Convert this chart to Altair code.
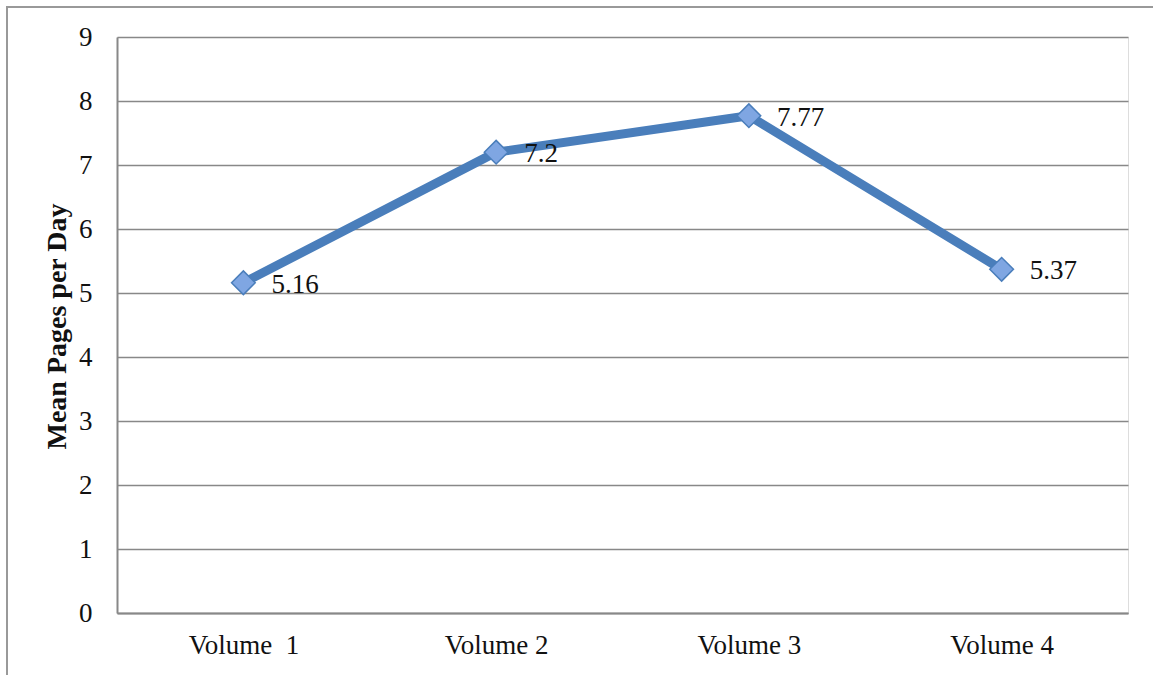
import altair as alt
import pandas as pd

volumes = ["Volume \u00a01", "Volume 2", "Volume 3", "Volume 4"]
means = [5.16, 7.2, 7.77, 5.37]
labels = ["5.16", "7.2", "7.77", "5.37"]

df = pd.DataFrame({"vol": volumes, "mean": means, "label": labels})

FONT = "Liberation Serif"
FS = 27

x = alt.X("vol:N", sort=volumes, scale=alt.Scale(type="point", padding=0.5),
          axis=alt.Axis(title=None, labelAngle=0, labelFontSize=FS, labelFont=FONT,
                        labelColor="#111", labelPadding=19, ticks=False, domain=True,
                        domainColor="#888", domainWidth=2, grid=False))
y = alt.Y("mean:Q", scale=alt.Scale(domain=[0, 9], nice=False),
          axis=alt.Axis(title="Mean Pages per Day", values=list(range(10)), titleFont=FONT,
                        titleFontSize=28, titleFontWeight="bold", titleColor="#111",
                        titleX=-60, titleY=289, titleAngle=-90, titleAlign="center",
                        titleBaseline="middle",
                        labelFontSize=FS, labelFont=FONT, labelColor="#111", labelPadding=25,
                        ticks=False, domain=True, domainColor="#888", domainWidth=2,
                        grid=True, gridColor="#888", gridWidth=1.5))

frame = alt.Chart(df).mark_rect(fill=None, stroke="#999", strokeWidth=2, clip=False).encode(
    x=alt.value(-110), x2=alt.value(1100), y=alt.value(-30), y2=alt.value(700))

line = alt.Chart(df).mark_line(color="#4a7ebb", strokeWidth=9).encode(x=x, y=y)
pts = alt.Chart(df).mark_point(shape="diamond", filled=True, fill="#7fa6e2", stroke="#4a7ebb",
                               strokeWidth=1.5, size=560, opacity=1).encode(x=x, y=y)
txt = alt.Chart(df).mark_text(align="left", baseline="middle", dx=28, dy=2, fontSize=FS,
                              font=FONT, color="#111").encode(x=x, y=y, text="label:N")

chart = alt.layer(frame, line, pts, txt).properties(
    width=1011, height=576,
    autosize=alt.AutoSizeParams(type="none"),
    padding={"left": 117, "top": 37, "right": 25, "bottom": 62},
).configure_view(stroke=None).configure(background="white")

chart.save("out.html", embed_options={"renderer": "svg", "actions": False})
